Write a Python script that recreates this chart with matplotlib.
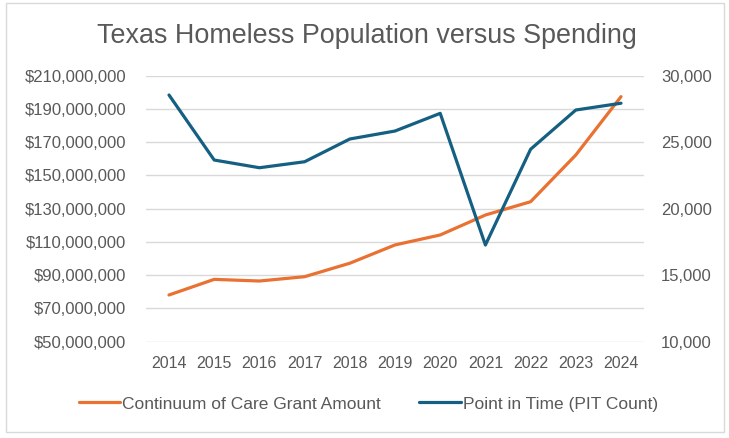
import matplotlib
matplotlib.use('Agg')
import matplotlib.pyplot as plt
from matplotlib.ticker import FuncFormatter, FixedLocator
from matplotlib.patches import Rectangle

years = ['2014', '2015', '2016', '2017', '2018', '2019', '2020', '2021', '2022', '2023', '2024']
coc_grant = [78.1e6, 87.5e6, 86.5e6, 89.1e6, 97.2e6, 108.2e6, 114.2e6, 126.2e6, 134.2e6, 162.3e6, 197.4e6]
pit_count = [28550, 23660, 23080, 23530, 25240, 25840, 27170, 17270, 24470, 27420, 27930]
left_ticks = [50e6, 70e6, 90e6, 110e6, 130e6, 150e6, 170e6, 190e6, 210e6]
right_ticks = [10000, 15000, 20000, 25000, 30000]

title = 'Texas Homeless Population versus Spending'
label_coc = 'Continuum of Care Grant Amount'
label_pit = 'Point in Time (PIT Count)'

ORANGE = '#E97132'
BLUE = '#156082'
TEXT = '#595959'
GRID = '#D9D9D9'

plt.rcParams['font.family'] = ['Liberation Sans', 'DejaVu Sans']

W, H = 729, 438
fig = plt.figure(figsize=(W / 100, H / 100), dpi=100)
fig.patch.set_facecolor('white')

fig.patches.append(Rectangle((6 / W, 1 - 432 / H), (724 - 6) / W, (432 - 3) / H,
                             transform=fig.transFigure, fill=False,
                             edgecolor=GRID, linewidth=1.0))

ax_left, ax_right = 146.4, 643.6
ax_top, ax_bot = 75.7, 341.7
ax = fig.add_axes([ax_left / W, 1 - ax_bot / H, (ax_right - ax_left) / W, (ax_bot - ax_top) / H])
ax2 = ax.twinx()

x = list(range(len(years)))
l1, = ax.plot(x, coc_grant, color=ORANGE, lw=2.3, solid_capstyle='round', label=label_coc)
l2, = ax2.plot(x, pit_count, color=BLUE, lw=2.3, solid_capstyle='round', label=label_pit)

ax.set_xlim(-0.5, len(years) - 0.5)
ax.set_ylim(left_ticks[0], left_ticks[-1])
ax2.set_ylim(right_ticks[0], right_ticks[-1])
ax.yaxis.set_major_locator(FixedLocator(left_ticks))
ax2.yaxis.set_major_locator(FixedLocator(right_ticks))
ax.yaxis.set_major_formatter(FuncFormatter(lambda v, p: '${:,.0f}'.format(v)))
ax2.yaxis.set_major_formatter(FuncFormatter(lambda v, p: '{:,.0f}'.format(v)))
ax.set_xticks(x)
ax.set_xticklabels(years)

ax.grid(axis='y', color=GRID, lw=1.0)
ax.set_axisbelow(True)
for a in (ax, ax2):
    for s in a.spines.values():
        s.set_visible(False)
ax.tick_params(axis='y', length=0, pad=14.6, labelsize=12, labelcolor=TEXT)
ax.tick_params(axis='x', length=0, pad=10, labelsize=11.5, labelcolor=TEXT)
ax2.tick_params(axis='y', length=0, pad=12.5, labelsize=12, labelcolor=TEXT)

fig.text(367 / W, 1 - 43.3 / H, title, ha='center', va='baseline', fontsize=19.4, color=TEXT)

fig.legend(handles=[l1, l2], loc='center', bbox_to_anchor=(368.5 / W, 1 - 404 / H),
           ncol=2, frameon=False, fontsize=12.5, labelcolor=TEXT,
           handlelength=2.4, handletextpad=0.12, columnspacing=2.2)

fig.savefig('out.png', dpi=100, facecolor='white')
